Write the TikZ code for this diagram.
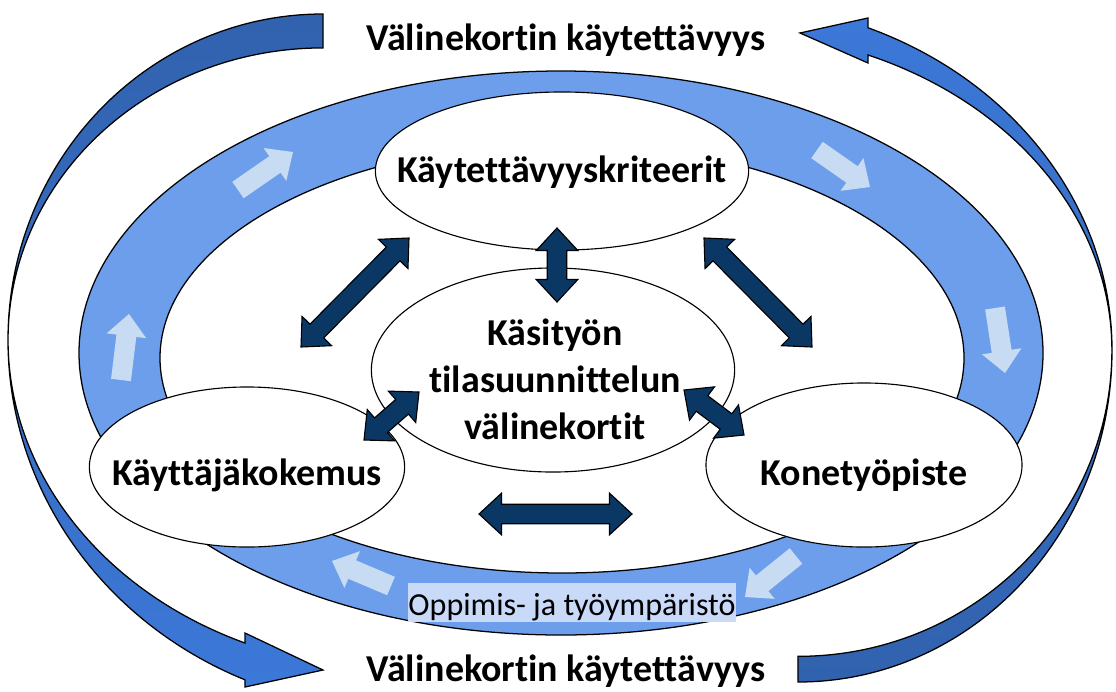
\documentclass[tikz,border=0pt]{standalone}
\usepackage{fontspec}
\setmainfont{Carlito}[Ligatures=NoCommon]
\usetikzlibrary{calc, shapes.geometric}
\definecolor{bandcol}{HTML}{6D9EEB}
\definecolor{flowcol}{HTML}{CFE2F3}
\definecolor{darkcol}{HTML}{0B3764}
\definecolor{arcbright}{HTML}{3C78D8}
\definecolor{arcdark}{HTML}{3162AE}
\definecolor{envcol}{HTML}{C9DAF8}

\newcommand\dblarrow[2]{%
  \coordinate (qa) at ($(#1)!16pt!(#2)$);
  \coordinate (qb) at ($(#2)!16pt!(#1)$);
  \draw[darkarrow] (#1) -- ($(qa)!14.8pt!90:(#2)$) -- ($(qa)!6.9pt!90:(#2)$)
    -- ($(qb)!6.9pt!-90:(#1)$) -- ($(qb)!14.8pt!-90:(#1)$) -- (#2)
    -- ($(qb)!14.8pt!90:(#1)$) -- ($(qb)!6.9pt!90:(#1)$)
    -- ($(qa)!6.9pt!-90:(#2)$) -- ($(qa)!14.8pt!-90:(#2)$) -- cycle;}
\newcommand\flowarrow[2]{%
  \coordinate (qc) at ($(#2)!15.6pt!(#1)$);
  \fill[flow] ($(#1)!7.1pt!90:(#2)$) -- ($(qc)!7.1pt!-90:(#1)$)
    -- ($(qc)!14.2pt!-90:(#1)$) -- (#2) -- ($(qc)!14.2pt!90:(#1)$)
    -- ($(qc)!7.1pt!90:(#1)$) -- ($(#1)!7.1pt!-90:(#2)$) -- cycle;}

\begin{document}
\begin{tikzpicture}[x=0.025cm, y=-0.025cm,
  bubble/.style={ellipse, draw=black, line width=0.8pt, fill=white, inner sep=0pt,
    font=\fontsize{27pt}{32pt}\selectfont\bfseries, text depth=0pt},
  darkarrow/.style={draw=black, line width=0.8pt, fill=darkcol, line join=miter},
  flow/.style={fill=flowcol, fill opacity=0.92},
  bigarc/.style={draw=black, line width=0.9pt},
  headline/.style={font=\fontsize{27pt}{32pt}\selectfont\bfseries, anchor=base, inner sep=0pt}]
\useasboundingbox (0,0) rectangle (1116,691);

\draw[fill=bandcol, even odd rule, line width=0.9pt]
  (561,353) ellipse [x radius=482, y radius=282]
  (562,358) ellipse [x radius=402, y radius=215];

\node[bubble, minimum width=9.33cm, minimum height=3.95cm, text height=17pt] (K) at (562,171) {\makebox[0pt]{Käytettävyyskriteerit}};
\node[bubble, minimum width=7.88cm, minimum height=4cm, text height=25.6pt] (U) at (247,467) {\makebox[0pt]{Käyttäjäkokemus}};
\node[bubble, minimum width=7.9cm, minimum height=4.1cm, text height=28.5pt] (M) at (864,465) {\makebox[0pt]{Konetyöpiste}};
\node[bubble, minimum width=9.08cm, minimum height=5.1cm] (C) at (553,370) {};
\node[align=center, inner sep=0pt, font=\fontsize{27pt}{33.4pt}\selectfont\bfseries] (Ct) at (555,379) {Käsityön\\tilasuunnittelun\\välinekortit};

\coordinate (d1) at (301,347); \coordinate (d2) at (409,238);
\coordinate (d3) at (557,228); \coordinate (d4) at (557,302);
\coordinate (d5) at (704,238); \coordinate (d6) at (812,347);
\coordinate (d7) at (364,440); \coordinate (d8) at (419,392);
\coordinate (d9) at (684,390); \coordinate (d10) at (744,435);
\coordinate (d11) at (479,514); \coordinate (d12) at (632,514);
\dblarrow{d1}{d2}
\dblarrow{d3}{d4}
\dblarrow{d5}{d6}
\dblarrow{d7}{d8}
\dblarrow{d9}{d10}
\dblarrow{d11}{d12}

\coordinate (f1) at (238,190); \coordinate (f2) at (293,152);
\coordinate (f3) at (817,150); \coordinate (f4) at (870,187);
\coordinate (f5) at (995,308); \coordinate (f6) at (1005,373);
\coordinate (f7) at (796,556); \coordinate (f8) at (745,597);
\coordinate (f9) at (391,586); \coordinate (f10) at (332,561);
\coordinate (f11) at (121,380); \coordinate (f12) at (129,314);
\flowarrow{f1}{f2}
\flowarrow{f3}{f4}
\flowarrow{f5}{f6}
\flowarrow{f7}{f8}
\flowarrow{f9}{f10}
\flowarrow{f11}{f12}

\node[fill=envcol, inner sep=0pt, minimum width=8.2cm, minimum height=0.975cm,
  text height=17.8pt, text depth=0pt, font=\fontsize{22.8pt}{27pt}\selectfont] (E) at (572,602.5) {Oppimis- ja työympäristö};

\draw[bigarc, top color=arcdark, bottom color=arcbright]
  (323,14) arc[start angle=270, end angle=180, x radius=315, y radius=326]
  arc[start angle=180, end angle=113.3, x radius=392, y radius=370]
  -- (245,687) -- (323,670) -- (245,633) -- (245,643)
  arc[start angle=113.3, end angle=180, x radius=392, y radius=330]
  arc[start angle=180, end angle=270, x radius=315, y radius=292]
  -- cycle;
\draw[bigarc, top color=arcbright, bottom color=arcdark]
  (798,682) arc[start angle=90, end angle=0, x radius=314, y radius=332]
  arc[start angle=0, end angle=-67.8, x radius=392, y radius=348]
  -- (868,18) -- (800,33) -- (868,63) -- (868,55)
  arc[start angle=-67.8, end angle=0, x radius=392, y radius=319]
  arc[start angle=0, end angle=90, x radius=314, y radius=306]
  -- cycle;

\node[headline] (T1) at (566,50) {Välinekortin käytettävyys};
\node[headline] (T2) at (566,681) {Välinekortin käytettävyys};
\end{tikzpicture}
\end{document}
